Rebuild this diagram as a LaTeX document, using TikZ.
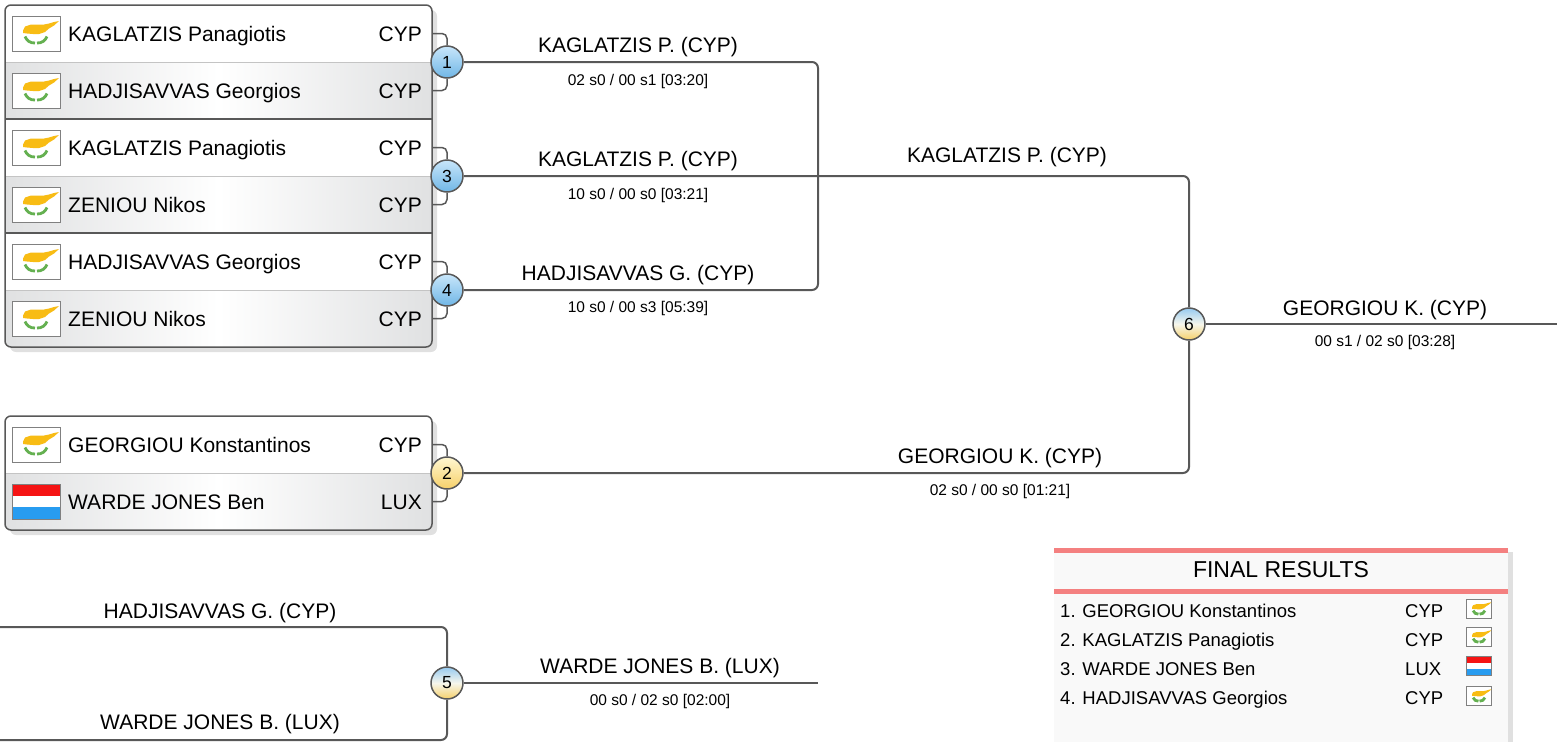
\documentclass[tikz,border=0pt]{standalone}
\usepackage{fontspec}
\setmainfont{Liberation Sans}
\usetikzlibrary{positioning,calc}
\definecolor{linegray}{RGB}{88,88,88}
\definecolor{rowgray}{RGB}{224,225,226}
\definecolor{sepgray}{RGB}{196,196,196}
\definecolor{shadowgray}{RGB}{224,224,224}
\definecolor{bluetop}{RGB}{200,230,250}
\definecolor{bluebot}{RGB}{112,182,230}
\definecolor{goldtop}{RGB}{255,247,210}
\definecolor{goldbot}{RGB}{246,208,105}
\definecolor{bluemix}{RGB}{150,202,240}
\definecolor{mixmid}{RGB}{246,246,236}
\definecolor{cyporange}{RGB}{248,188,20}
\definecolor{cypgreen}{RGB}{100,176,80}
\definecolor{luxred}{RGB}{245,20,20}
\definecolor{luxblue}{RGB}{40,156,240}
\definecolor{resred}{RGB}{244,128,128}
\definecolor{respanel}{RGB}{249,249,249}
\newcommand{\namefont}{\fontsize{21}{25}\selectfont}
\newcommand{\scorefont}{\fontsize{15.5}{18}\selectfont}
\newcommand{\numfont}{\fontsize{17.5}{20}\selectfont}
\newcommand{\listfont}{\fontsize{18.5}{22}\selectfont}
\newcommand{\titlefont}{\fontsize{23}{27}\selectfont}
\tikzset{
  cypflag/.pic={
    \draw[gray, line width=1, fill=white] (-24,-17.5) rectangle (24,17.5);
    \fill[cyporange] (-13,-3) -- (-11,-7) -- (-5,-9) -- (2,-9) -- (8,-9)
      -- (13,-10) -- (18,-11.5) -- (23,-12.5) -- (18,-8) -- (13,-5) -- (9,-1.5)
      -- (3,0.5) -- (-3,0.5) -- (-9,0) -- (-13,-0.5) -- cycle;
    \draw[cypgreen, line width=2.8] (-11,3) to[bend right=35] (-1,9.5);
    \draw[cypgreen, line width=2.8] (11,3) to[bend left=35] (1,9.5);
  },
  luxflag/.pic={
    \fill[luxred] (-24,-17.5) rectangle (24,-5.8);
    \fill[white] (-24,-5.8) rectangle (24,5.8);
    \fill[luxblue] (-24,5.8) rectangle (24,17.5);
    \draw[gray, line width=1] (-24,-17.5) rectangle (24,17.5);
  }
}

\begin{document}
\begin{tikzpicture}[x=1pt, y=-1pt,
  rowbox/.style={rectangle, minimum width=427, minimum height=57, inner sep=0pt, outer sep=0pt},
  whitebox/.style={rowbox, fill=white},
  graybox/.style={rowbox, left color=rowgray, right color=rowgray, middle color=white},
  pname/.style={anchor=base west, inner sep=0pt, font=\namefont},
  pcty/.style={anchor=base east, inner sep=0pt, font=\namefont},
  matchno/.style={circle, minimum size=32, inner sep=0pt, draw=linegray, line width=1.5, font=\numfont},
  bluedot/.style={matchno, top color=bluetop, bottom color=bluebot},
  golddot/.style={matchno, top color=goldtop, bottom color=goldbot},
  mixdot/.style={matchno, top color=bluemix, bottom color=goldbot, middle color=mixmid},
  link/.style={draw=linegray, line width=2, rounded corners=6},
  winner/.style={anchor=base, inner sep=0pt, font=\namefont},
  score/.style={anchor=base, inner sep=0pt, font=\scorefont},
  resrow/.style={anchor=base west, inner sep=0pt, font=\listfont},
]
\useasboundingbox (0,0) rectangle (1557,742);

% ─── Upper group: matches 1, 3, 4 ───
\fill[shadowgray, rounded corners=6] (10,10) rectangle (437,352);
\begin{scope}
  \clip[rounded corners=6] (5,5) rectangle (432,347);
  \node[whitebox] (r1a) at (218.5,33.5) {};
  \node[graybox]  (r1b) at (218.5,90.5) {};
  \node[whitebox] (r3a) at (218.5,147.5) {};
  \node[graybox]  (r3b) at (218.5,204.5) {};
  \node[whitebox] (r4a) at (218.5,261.5) {};
  \node[graybox]  (r4b) at (218.5,318.5) {};
\end{scope}
\draw[sepgray, line width=1] (r1a.south west) -- (r1a.south east);
\draw[sepgray, line width=1] (r3a.south west) -- (r3a.south east);
\draw[sepgray, line width=1] (r4a.south west) -- (r4a.south east);
\draw[linegray, line width=1.5] (r1b.south west) -- (r1b.south east);
\draw[linegray, line width=1.5] (r3b.south west) -- (r3b.south east);
\draw[linegray, line width=1.5, rounded corners=6] (5,5) rectangle (432,347);

% Lower group: match 2
\fill[shadowgray, rounded corners=6] (10,421) rectangle (437,535);
\begin{scope}
  \clip[rounded corners=6] (5,416) rectangle (432,530);
  \node[whitebox] (r2a) at (218.5,444.5) {};
  \node[graybox]  (r2b) at (218.5,501.5) {};
\end{scope}
\draw[sepgray, line width=1] (r2a.south west) -- (r2a.south east);
\draw[linegray, line width=1.5, rounded corners=6] (5,416) rectangle (432,530);

% Flags
\foreach \r in {r1a,r1b,r3a,r3b,r4a,r4b,r2a} {
  \pic at ($(\r.west)+(31,0)$) {cypflag};
}
\pic at ($(r2b.west)+(31,0)$) {luxflag};

% Players
\node[pname] (n1a) at ($(r1a.west)+(63,7.5)$) {KAGLATZIS Panagiotis};
\node[pname] (n1b) at ($(r1b.west)+(63,7.5)$) {HADJISAVVAS Georgios};
\node[pname] (n3a) at ($(r3a.west)+(63,7.5)$) {KAGLATZIS Panagiotis};
\node[pname] (n3b) at ($(r3b.west)+(63,7.5)$) {ZENIOU Nikos};
\node[pname] (n4a) at ($(r4a.west)+(63,7.5)$) {HADJISAVVAS Georgios};
\node[pname] (n4b) at ($(r4b.west)+(63,7.5)$) {ZENIOU Nikos};
\node[pname] (n2a) at ($(r2a.west)+(63,7.5)$) {GEORGIOU Konstantinos};
\node[pname] (n2b) at ($(r2b.west)+(63,7.5)$) {WARDE JONES Ben};
\foreach \r in {r1a,r1b,r3a,r3b,r4a,r4b,r2a} {
  \node[pcty] at ($(\r.east)+(-10,7.5)$) {CYP};
}
\node[pcty] at ($(r2b.east)+(-10,7.5)$) {LUX};

% Match dots
\node[bluedot] (m1) at (447,62) {1};
\node[bluedot] (m3) at (447,176) {3};
\node[bluedot] (m4) at (447,290) {4};
\node[golddot] (m2) at (447,473) {2};
\node[mixdot]  (m5) at (447,683) {5};
\node[mixdot]  (m6) at (1189,324) {6};

% Brackets into the dots
\foreach \p/\m in {r1a/m1, r3a/m3, r4a/m4, r2a/m2} {
  \draw[link, line width=1.5, rounded corners=5] (\p.east) -| (\m.north);
}
\foreach \p/\m in {r1b/m1, r3b/m3, r4b/m4, r2b/m2} {
  \draw[link, line width=1.5, rounded corners=5] (\p.east) -| (\m.south);
}

% Connectors
\coordinate (t14) at (818,176);
\coordinate (in5a) at (0,627);
\coordinate (in5b) at (0,740);
\coordinate (out5) at (818,683);
\coordinate (out6) at (1557,324);
\draw[link] (m1.east) -| (t14) |- (m4.east);
\draw[link] (m3.east) -| (m6.north);
\draw[link] (m2.east) -| (m6.south);
\draw[link] (m6.east) -- (out6);
\draw[link] (in5a) -| (m5.north);
\draw[link] (in5b) -| (m5.south);
\draw[link] (m5.east) -- (out5);

% Winners and scores
\node[winner] (w1) at (638,52) {KAGLATZIS P. (CYP)};
\node[score]  (s1) at (638,85) {02 s0 / 00 s1 [03:20]};
\node[winner] (w3) at (638,166) {KAGLATZIS P. (CYP)};
\node[score]  (s3) at (638,199) {10 s0 / 00 s0 [03:21]};
\node[winner] (w4) at (638,280) {HADJISAVVAS G. (CYP)};
\node[score]  (s4) at (638,312) {10 s0 / 00 s3 [05:39]};
\node[winner] (w6a) at (1007,162) {KAGLATZIS P. (CYP)};
\node[winner] (w2) at (1000,463) {GEORGIOU K. (CYP)};
\node[score]  (s2) at (1000,495) {02 s0 / 00 s0 [01:21]};
\node[winner] (w6) at (1385,315) {GEORGIOU K. (CYP)};
\node[score]  (s6) at (1385,346) {00 s1 / 02 s0 [03:28]};
\node[winner] (l5a) at (220,618) {HADJISAVVAS G. (CYP)};
\node[winner] (l5b) at (220,729) {WARDE JONES B. (LUX)};
\node[winner] (w5) at (660,673) {WARDE JONES B. (LUX)};
\node[score]  (s5) at (660,705) {00 s0 / 02 s0 [02:00]};

% ─── Final results panel ───
\fill[shadowgray] (1508,552) rectangle (1513,742);
\fill[respanel] (1054,548) rectangle (1508,742);
\fill[resred] (1054,548) rectangle (1508,553);
\fill[resred] (1054,589) rectangle (1508,594);
\node[anchor=base, inner sep=0pt, font=\titlefont] (rtitle) at (1281,577) {FINAL RESULTS};
\node[resrow] (f1) at (1060,617) {1. GEORGIOU Konstantinos};
\node[resrow] (f2) at (1060,646) {2. KAGLATZIS Panagiotis};
\node[resrow] (f3) at (1060,675) {3. WARDE JONES Ben};
\node[resrow] (f4) at (1060,704) {4. HADJISAVVAS Georgios};
\node[resrow] at (1405,617) {CYP};
\node[resrow] at (1405,646) {CYP};
\node[resrow] at (1405,675) {LUX};
\node[resrow] at (1405,704) {CYP};
\pic[scale=0.54] at (1479,609) {cypflag};
\pic[scale=0.54] at (1479,637) {cypflag};
\pic[scale=0.54] at (1479,666) {luxflag};
\pic[scale=0.54] at (1479,696) {cypflag};

\end{tikzpicture}
\end{document}
